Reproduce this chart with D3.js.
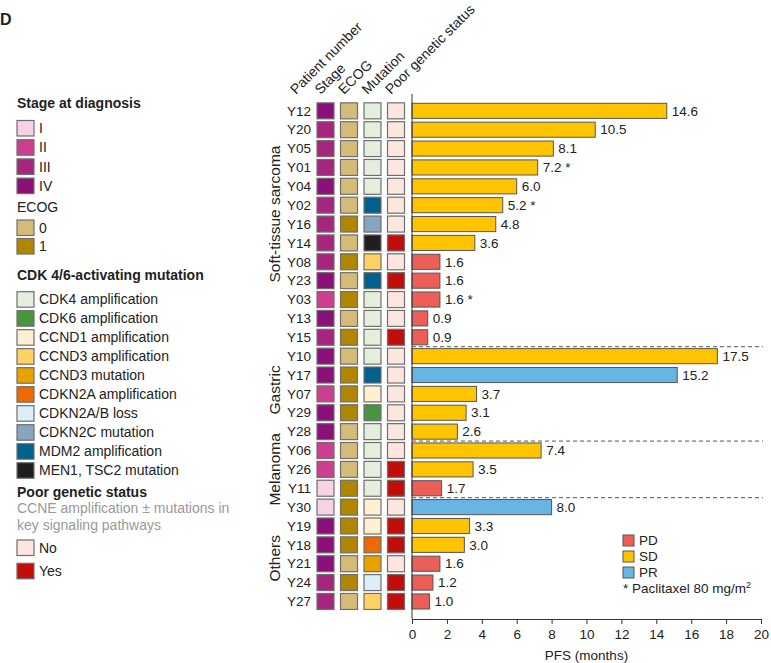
<!DOCTYPE html>
<html>
<head>
<meta charset="utf-8">
<script src="https://cdn.jsdelivr.net/npm/d3@7"></script>
<style>
  body { margin: 0; background: #fff; }
  text { font-family: Arial, "Liberation Sans", sans-serif; fill: #222; }
</style>
</head>
<body>
<div id="chart"></div>
<script>
// data
const patients = ["Y12","Y20","Y05","Y01","Y04","Y02","Y16","Y14","Y08","Y23","Y03","Y13","Y15",
  "Y10","Y17","Y07","Y29","Y28","Y06","Y26","Y11","Y30","Y19","Y18","Y21","Y24","Y27"];
const groups = ["Soft-tissue sarcoma","Soft-tissue sarcoma","Soft-tissue sarcoma","Soft-tissue sarcoma","Soft-tissue sarcoma",
  "Soft-tissue sarcoma","Soft-tissue sarcoma","Soft-tissue sarcoma","Soft-tissue sarcoma","Soft-tissue sarcoma",
  "Soft-tissue sarcoma","Soft-tissue sarcoma","Soft-tissue sarcoma",
  "Gastric","Gastric","Gastric","Gastric","Gastric","Melanoma","Melanoma","Melanoma",
  "Others","Others","Others","Others","Others","Others"];
const stage = ["IV","III","III","III","IV","III","III","III","III","IV","II","IV","III",
  "IV","IV","II","IV","IV","II","II","I","I","IV","IV","IV","III","III"];
const ecog = ["0","0","0","0","0","0","1","0","1","0","1","0","1",
  "0","1","1","1","0","0","0","1","1","1","1","0","1","0"];
const mutation = ["CDK4 amplification","CDK4 amplification","CDK4 amplification","CDK4 amplification","CDK4 amplification",
  "MDM2 amplification","CDKN2C mutation","MEN1, TSC2 mutation","CCND3 amplification","MDM2 amplification",
  "CDK4 amplification","CDK4 amplification","CDK4 amplification",
  "CDK4 amplification","MDM2 amplification","CCND1 amplification","CDK6 amplification","CDK4 amplification",
  "CDK4 amplification","CDK4 amplification","CDK4 amplification",
  "CCND1 amplification","CCND1 amplification","CDKN2A amplification","CCND3 mutation","CDKN2A/B loss","CCND3 amplification"];
const poor = ["No","No","No","No","No","No","No","Yes","No","Yes","No","No","Yes",
  "No","No","No","No","No","No","Yes","Yes","No","Yes","Yes","No","Yes","Yes"];
const pfs = [14.6,10.5,8.1,7.2,6.0,5.2,4.8,3.6,1.6,1.6,1.6,0.9,0.9,
  17.5,15.2,3.7,3.1,2.6,7.4,3.5,1.7,8.0,3.3,3.0,1.6,1.2,1.0];
const response = ["SD","SD","SD","SD","SD","SD","SD","SD","PD","PD","PD","PD","PD",
  "SD","PR","SD","SD","SD","SD","SD","PD","PR","SD","SD","PD","PD","PD"];
const paclitaxel80 = ["Y01","Y02","Y03"];
const xTicks = [0,2,4,6,8,10,12,14,16,18,20];

const stageLevels = ["I","II","III","IV"];
const stageColors = ["#f7d2e6","#cc3f8f","#a6267f","#8c1079"];
const ecogLevels = ["0","1"];
const ecogColors = ["#d4bc78","#b08600"];
const mutationLevels = ["CDK4 amplification","CDK6 amplification","CCND1 amplification","CCND3 amplification",
  "CCND3 mutation","CDKN2A amplification","CDKN2A/B loss","CDKN2C mutation","MDM2 amplification","MEN1, TSC2 mutation"];
const mutationColors = ["#e3eedd","#4a9440","#fff0d4","#ffd263","#e8a200","#ee6a00","#ddeef8","#87a5c0","#00618e","#1f1f1f"];
const poorLevels = ["No","Yes"];
const poorColors = ["#fde6df","#c00e0a"];
const respLevels = ["PD","SD","PR"];
const respColors = ["#ec5f57","#ffc400","#66b5e3"];

const width = 771, height = 663;
const svg = d3.select("#chart").append("svg").attr("width", width).attr("height", height);

const stageC = d3.scaleOrdinal(stageLevels, stageColors);
const ecogC = d3.scaleOrdinal(ecogLevels, ecogColors);
const mutC = d3.scaleOrdinal(mutationLevels, mutationColors);
const poorC = d3.scaleOrdinal(poorLevels, poorColors);
const respC = d3.scaleOrdinal(respLevels, respColors);

const y = d3.scaleBand().domain(patients).range([101.4, 610.9]).paddingInner(0.2).paddingOuter(0.1);
const x = d3.scaleLinear().domain([0, 20]).range([412, 761]);
const cols = ["Stage","ECOG","Mutation","Poor genetic status"];
const colX = d3.scalePoint().domain(cols).range([325.5, 396]);
const sqW = 17, sqH = 16;

svg.append("text").attr("x", 0).attr("y", 25).style("font-size", "16px").style("font-weight", "bold").text("D");

// heatmap columns
const colData = [stage, ecog, mutation, poor];
const colScales = [stageC, ecogC, mutC, poorC];
cols.forEach((c, ci) => {
  svg.append("g").selectAll("rect").data(patients).join("rect")
    .attr("x", colX(c) - sqW / 2)
    .attr("y", d => y(d) + y.bandwidth() / 2 - sqH / 2)
    .attr("width", sqW).attr("height", sqH)
    .attr("fill", (d, i) => colScales[ci](colData[ci][i]))
    .attr("stroke", "#6e6e6e").attr("stroke-width", 1.2);
});

// patient labels
svg.append("g").selectAll("text").data(patients).join("text")
  .attr("x", 311).attr("y", d => y(d) + y.bandwidth() / 2)
  .attr("dy", "0.35em").attr("text-anchor", "end")
  .style("font-size", "13.5px").text(d => d);

// column headers
const headers = ["Patient number", ...cols];
const headX = [296, ...cols.map(c => colX(c) - 5)];
svg.append("g").selectAll("text").data(headers).join("text")
  .attr("transform", (d, i) => `translate(${headX[i]},95) rotate(-45)`)
  .style("font-size", "14px").text(d => d);

// group labels (sarcoma label sits a little above its block's middle)
const groupNames = Array.from(new Set(groups));
const groupShift = { "Soft-tissue sarcoma": -10, "Gastric": -4, "Melanoma": 0, "Others": 4 };
groupNames.forEach(g => {
  const members = patients.filter((p, i) => groups[i] === g);
  const top = y(members[0]), bot = y(members[members.length - 1]) + y.bandwidth();
  svg.append("text")
    .attr("transform", `translate(280,${(top + bot) / 2 + groupShift[g]}) rotate(-90)`)
    .attr("text-anchor", "middle").style("font-size", "15.5px").text(g);
});

// separators between groups
groupNames.slice(1).forEach(g => {
  const first = patients[groups.indexOf(g)];
  const yy = y(first) - y.step() * y.paddingInner() / 2;
  svg.append("line").attr("x1", x(0)).attr("x2", 763).attr("y1", yy).attr("y2", yy)
    .attr("stroke", "#555").attr("stroke-dasharray", "4,3").attr("stroke-width", 1);
});

// bars
svg.append("g").selectAll("rect").data(patients).join("rect")
  .attr("x", x(0)).attr("y", d => y(d))
  .attr("width", (d, i) => x(pfs[i]) - x(0)).attr("height", y.bandwidth())
  .attr("fill", (d, i) => respC(response[i]))
  .attr("stroke", "#555").attr("stroke-width", 1);

svg.append("g").selectAll("text").data(patients).join("text")
  .attr("x", (d, i) => x(pfs[i]) + 5).attr("y", d => y(d) + y.bandwidth() / 2)
  .attr("dy", "0.35em").style("font-size", "13.5px")
  .text((d, i) => pfs[i].toFixed(1) + (paclitaxel80.includes(d) ? " *" : ""));

// axes
svg.append("line").attr("x1", x(0)).attr("x2", x(0)).attr("y1", 94).attr("y2", 619)
  .attr("stroke", "#333");
const xAxis = svg.append("g").attr("transform", "translate(0,619)")
  .call(d3.axisBottom(x).tickValues(xTicks).tickSize(5).tickPadding(5).tickFormat(d3.format("d")));
xAxis.select(".domain").attr("stroke", "#333");
xAxis.selectAll(".tick line").attr("stroke", "#333");
xAxis.selectAll("text").style("font-size", "13.5px").attr("fill", "#222");
svg.append("text").attr("x", (x(0) + x(20)) / 2).attr("y", 660).attr("text-anchor", "middle")
  .style("font-size", "13.5px").text("PFS (months)");

// response legend
respLevels.forEach((r, i) => {
  const yy = 535 + i * 16;
  svg.append("rect").attr("x", 623).attr("y", yy).attr("width", 11).attr("height", 11)
    .attr("fill", respC(r)).attr("stroke", "#555");
  svg.append("text").attr("x", 639).attr("y", yy + 5.5).attr("dy", "0.35em")
    .style("font-size", "13.5px").text(r);
});
const foot = svg.append("text").attr("x", 623).attr("y", 593).style("font-size", "13.5px");
foot.append("tspan").text("* Paclitaxel 80 mg/m");
foot.append("tspan").attr("dy", -5).style("font-size", "9px").text("2");

// left legends
function legendItems(levels, scale, y0, step) {
  levels.forEach((l, i) => {
    const yy = y0 + i * step;
    svg.append("rect").attr("x", 17).attr("y", yy).attr("width", 17).attr("height", 15.5)
      .attr("fill", scale(l)).attr("stroke", "#6e6e6e").attr("stroke-width", 1.2);
    svg.append("text").attr("x", 39).attr("y", yy + 7.75).attr("dy", "0.35em")
      .style("font-size", "14px").text(l);
  });
}
function boldTitle(t, yc) {
  svg.append("text").attr("x", 17).attr("y", yc).attr("dy", "0.35em")
    .style("font-size", "14px").style("font-weight", "bold").text(t);
}
boldTitle("Stage at diagnosis", 103);
legendItems(stageLevels, stageC, 120.5, 19.2);
svg.append("text").attr("x", 17).attr("y", 207).attr("dy", "0.35em").style("font-size", "14px").text("ECOG");
legendItems(ecogLevels, ecogC, 220, 18.5);
boldTitle("CDK 4/6-activating mutation", 275);
legendItems(mutationLevels, mutC, 291.7, 19.0);
boldTitle("Poor genetic status", 492);
svg.append("text").attr("x", 17).attr("y", 508.5).attr("dy", "0.35em").style("font-size", "14px")
  .style("fill", "#999").text("CCNE amplification \u00b1 mutations in");
svg.append("text").attr("x", 17).attr("y", 525).attr("dy", "0.35em").style("font-size", "14px")
  .style("fill", "#999").text("key signaling pathways");
legendItems(poorLevels, poorC, 540, 23.3);
</script>
</body>
</html>
